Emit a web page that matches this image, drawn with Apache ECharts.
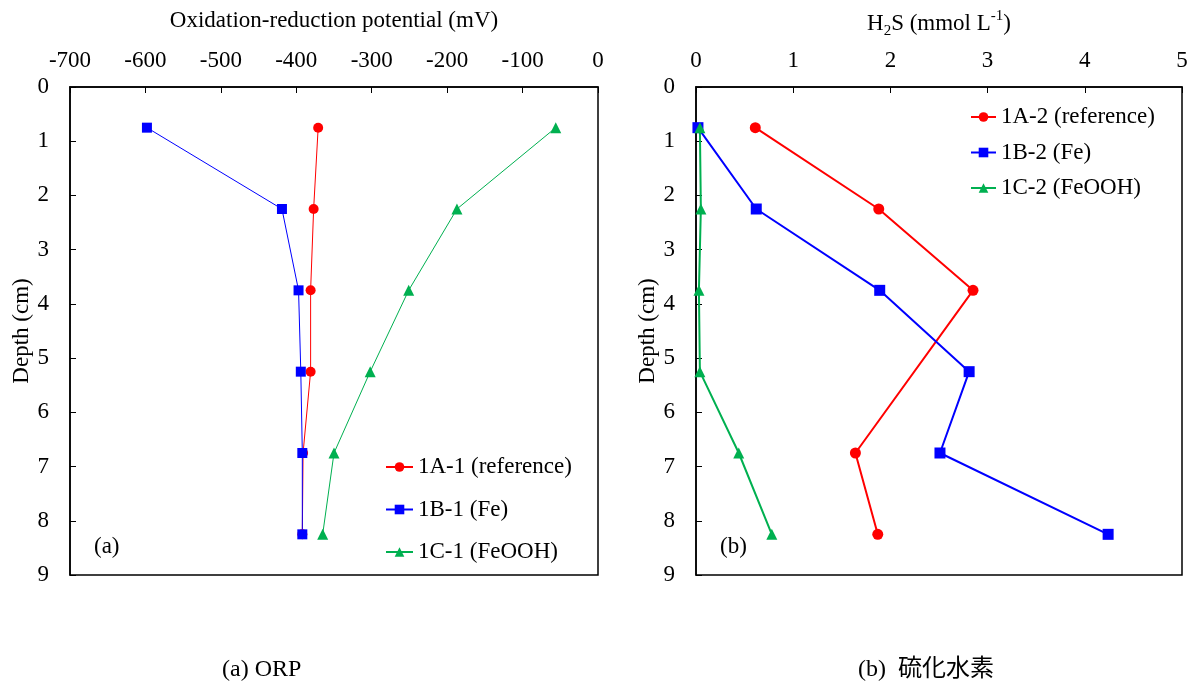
<!DOCTYPE html>
<html>
<head>
<meta charset="utf-8">
<script src="https://cdn.jsdelivr.net/npm/echarts@6/dist/echarts.min.js"></script>
<style>
html,body{margin:0;padding:0;background:#fff;}
#c{width:1192px;height:682px;}
</style>
</head>
<body>
<div id="c"></div>
<script>
// ---- data ----
var depths = [0.75, 2.25, 3.75, 5.25, 6.75, 8.25];
var orpA = [-371, -377, -381, -381, -391, -392];
var orpB = [-598, -419, -397, -394, -392, -392];
var orpC = [-56, -187, -251, -302, -350, -365];
var h2sA = [0.61, 1.88, 2.85, null, 1.64, 1.87];
var h2sB = [0.02, 0.62, 1.89, 2.81, 2.51, 4.24];
var h2sC = [0.04, 0.05, 0.03, 0.04, 0.44, 0.78];
var namesLeft = ['1A-1 (reference)', '1B-1 (Fe)', '1C-1 (FeOOH)'];
var namesRight = ['1A-2 (reference)', '1B-2 (Fe)', '1C-2 (FeOOH)'];
var orpTicks = [-700, -600, -500, -400, -300, -200, -100, 0];
var h2sTicks = [0, 1, 2, 3, 4, 5];
var depthTicks = [0, 1, 2, 3, 4, 5, 6, 7, 8, 9];

function pairs(vals) {
  var out = [];
  for (var i = 0; i < vals.length; i++) {
    if (vals[i] !== null) out.push([vals[i], depths[i]]);
  }
  return out;
}

var FONT = '"Liberation Serif", "Times New Roman", "Noto Sans CJK JP", serif';
var RED = '#FF0000', BLUE = '#0000FF', GREEN = '#00B050';
var FS = 23;

function xAxisBase(ticks, gridIndex) {
  return {
    type: 'value', gridIndex: gridIndex, position: 'top',
    min: ticks[0], max: ticks[ticks.length - 1], interval: ticks[1] - ticks[0],
    axisLine: {show: true, onZero: false, lineStyle: {color: '#000', width: 1.5}},
    axisTick: {show: true, inside: true, length: 6, lineStyle: {color: '#000', width: 1}},
    axisLabel: {color: '#000', fontFamily: FONT, fontSize: FS, margin: 15},
    splitLine: {show: false},
    nameLocation: 'middle',
    nameTextStyle: {color: '#000', fontFamily: FONT, fontSize: FS}
  };
}
function yAxisBase(gridIndex) {
  return {
    type: 'value', gridIndex: gridIndex, inverse: true, position: 'left',
    min: depthTicks[0], max: depthTicks[depthTicks.length - 1], interval: 1,
    axisLine: {show: true, onZero: false, lineStyle: {color: '#000', width: 1.5}},
    axisTick: {show: true, inside: true, length: 6, lineStyle: {color: '#000', width: 1}},
    axisLabel: {color: '#000', fontFamily: FONT, fontSize: FS, margin: 21},
    splitLine: {show: false},
    name: 'Depth (cm)', nameLocation: 'middle', nameGap: 37,
    nameTextStyle: {color: '#000', fontFamily: FONT, fontSize: FS}
  };
}

var xl = xAxisBase(orpTicks, 0);
xl.name = 'Oxidation-reduction potential (mV)';
xl.nameGap = 55;
var xr = xAxisBase(h2sTicks, 1);
xr.name = '{n|H}{sub|2}{n|S (mmol L}{sup|-1}{n|)}';
xr.nameGap = 48;
xr.nameTextStyle = {
  color: '#000', fontFamily: FONT, fontSize: FS,
  rich: {
    n: {fontFamily: FONT, fontSize: FS, color: '#000', lineHeight: 30},
    sub: {fontFamily: FONT, fontSize: 15, color: '#000', lineHeight: 15, verticalAlign: 'bottom'},
    sup: {fontFamily: FONT, fontSize: 15, color: '#000', lineHeight: 15, verticalAlign: 'top'}
  }
};
var yl = yAxisBase(0);
var yr = yAxisBase(1);

function lineSeries(name, data, color, symbol, size, width, xi, yi) {
  return {
    type: 'line', name: name, data: pairs(data),
    xAxisIndex: xi, yAxisIndex: yi,
    symbol: symbol, symbolSize: size, showSymbol: true,
    lineStyle: {color: color, width: width},
    itemStyle: {color: color},
    animation: false
  };
}

var option = {
  backgroundColor: '#fff',
  animation: false,
  textStyle: {fontFamily: FONT},
  grid: [
    {left: 70, top: 87, width: 528, height: 488, show: true, borderColor: '#000', borderWidth: 1.5,
     containLabel: false, outerBoundsMode: 'none'},
    {left: 696, top: 87, width: 486, height: 488, show: true, borderColor: '#000', borderWidth: 1.5,
     containLabel: false, outerBoundsMode: 'none'}
  ],
  xAxis: [xl, xr],
  yAxis: [yl, yr],
  legend: [
    {
      data: namesLeft, orient: 'vertical', left: 385, top: 454, padding: 0,
      itemWidth: 27, itemHeight: 12, itemGap: 16.5,
      textStyle: {color: '#000', fontFamily: FONT, fontSize: FS, lineHeight: 26}
    },
    {
      data: namesRight, orient: 'vertical', left: 970, top: 104, padding: 0,
      itemWidth: 25, itemHeight: 12, itemGap: 9.5,
      textStyle: {color: '#000', fontFamily: FONT, fontSize: FS, lineHeight: 26}
    }
  ],
  title: [
    {text: '(a) ORP', left: 222, top: 658, padding: 0,
     textStyle: {color: '#000', fontFamily: FONT, fontSize: 24, fontWeight: 'normal'}},
    {text: '(b)  硫化水素', left: 858, top: 658, padding: 0,
     textStyle: {color: '#000', fontFamily: FONT, fontSize: 24, fontWeight: 'normal'}}
  ],
  graphic: [
    {type: 'text', left: 94, top: 535, style: {text: '(a)', fill: '#000', font: FS + 'px ' + FONT}},
    {type: 'text', left: 720, top: 535, style: {text: '(b)', fill: '#000', font: FS + 'px ' + FONT}}
  ],
  series: [
    lineSeries(namesLeft[0], orpA, RED, 'circle', 10, 1, 0, 0),
    lineSeries(namesLeft[1], orpB, BLUE, 'rect', 10, 1, 0, 0),
    lineSeries(namesLeft[2], orpC, GREEN, 'triangle', 11, 1, 0, 0),
    lineSeries(namesRight[0], h2sA, RED, 'circle', 11, 2, 1, 1),
    lineSeries(namesRight[1], h2sB, BLUE, 'rect', 11, 2, 1, 1),
    lineSeries(namesRight[2], h2sC, GREEN, 'triangle', 11, 2, 1, 1)
  ]
};

var chart = echarts.init(document.getElementById('c'), null, {renderer: 'canvas'});
chart.setOption(option);
</script>
</body>
</html>
